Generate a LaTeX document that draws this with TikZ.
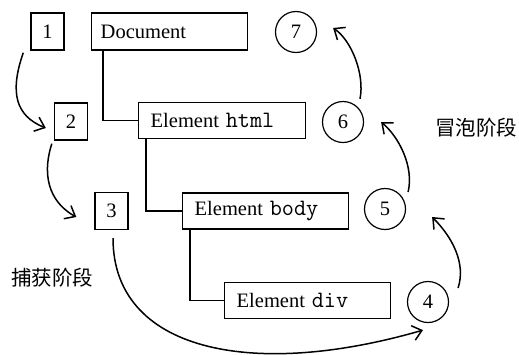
\documentclass[tikz,border=0pt]{standalone}
\usepackage{fontspec}
\setmainfont{Liberation Serif}
\newfontfamily\cjk{Noto Sans CJK SC}
\newcommand{\code}[1]{{\fontsize{23.5}{24}\ttfamily #1}}
\usetikzlibrary{arrows.meta}

\begin{document}
\begin{tikzpicture}[x=1pt,y=-1pt,
    every node/.style={font=\fontsize{20.5}{24}\selectfont},
    elem/.style={draw, line width=1.4pt, anchor=west, minimum height=36pt, inner xsep=12pt, align=left, text width=#1},
    numbox/.style={draw, line width=1.4pt, minimum width=33pt, minimum height=37pt, inner sep=0pt},
    numcirc/.style={draw, circle, line width=1.2pt, minimum size=41pt, inner sep=0pt},
    tree/.style={line width=1.4pt},
    flow/.style={line width=1.5pt, -{Straight Barb[length=9pt,width=15pt,line width=1.5pt]}}]
     \useasboundingbox (0,0) rectangle (519,354);

     \node[numbox] (n1) at (47.5,31.5) {1};
     \node[elem=138pt, inner xsep=9pt, minimum height=37pt] (doc) at (91,31.5) {Document};
     \node[numcirc] (n7) at (296,32) {7};

     \node[numbox] (n2) at (71,121.5) {2};
     \node[elem=143pt] (html) at (138,120.5) {Element \code{html}};
     \node[numcirc] (n6) at (343,122) {6};
     \node (bubble) at (476,128) {\cjk 冒泡阶段};

     \node[numbox] (n3) at (111.5,211) {3};
     \node[elem=142pt] (body) at (182,211) {Element \code{body}};
     \node[numcirc] (n5) at (385,209) {5};

     \node (capture) at (52,278) {\cjk 捕获阶段};
     \node[elem=142pt] (div) at (224,300.5) {Element \code{div}};
     \node[numcirc] (n4) at (428,302) {4};

     % tree
     \draw[tree] ([xshift=12pt]doc.south west) |- (html.west);
     \draw[tree] ([xshift=8pt]html.south west) |- (body.west);
     \draw[tree] ([xshift=8pt]body.south west) |- (div.west);

     % capture
     \draw[flow] ([xshift=-7pt,yshift=-2pt]n1.south west) .. controls +(-14,40) and +(-30,-12) .. ([xshift=-8pt,yshift=-6.5pt]n2.west);
     \draw[flow] ([xshift=-2pt,yshift=-3pt]n2.south west) .. controls +(-12,38) and +(-22,-12) .. ([xshift=-18pt,yshift=-6pt]n3.west);
     \draw[flow] ([xshift=1.5pt,yshift=-8pt]n3.south) .. controls +(0,112) and +(-173,50) .. ([xshift=-5pt,yshift=-7pt]n4.south);

     % bubble
     \draw[flow] ([xshift=9pt,yshift=14pt]n4.east) .. controls +(8,-25) and +(20,20) .. ([xshift=26pt,yshift=-8pt]n5.east);
     \draw[flow] ([xshift=2pt,yshift=17pt]n5.east) .. controls +(6,-25) and +(18,15) .. ([xshift=17pt]n6.east);
     \draw[flow] ([xshift=17pt,yshift=2pt]n6.north) .. controls +(5,-25) and +(18,12) .. ([xshift=16pt,yshift=4pt]n7.east);
\end{tikzpicture}
\end{document}
